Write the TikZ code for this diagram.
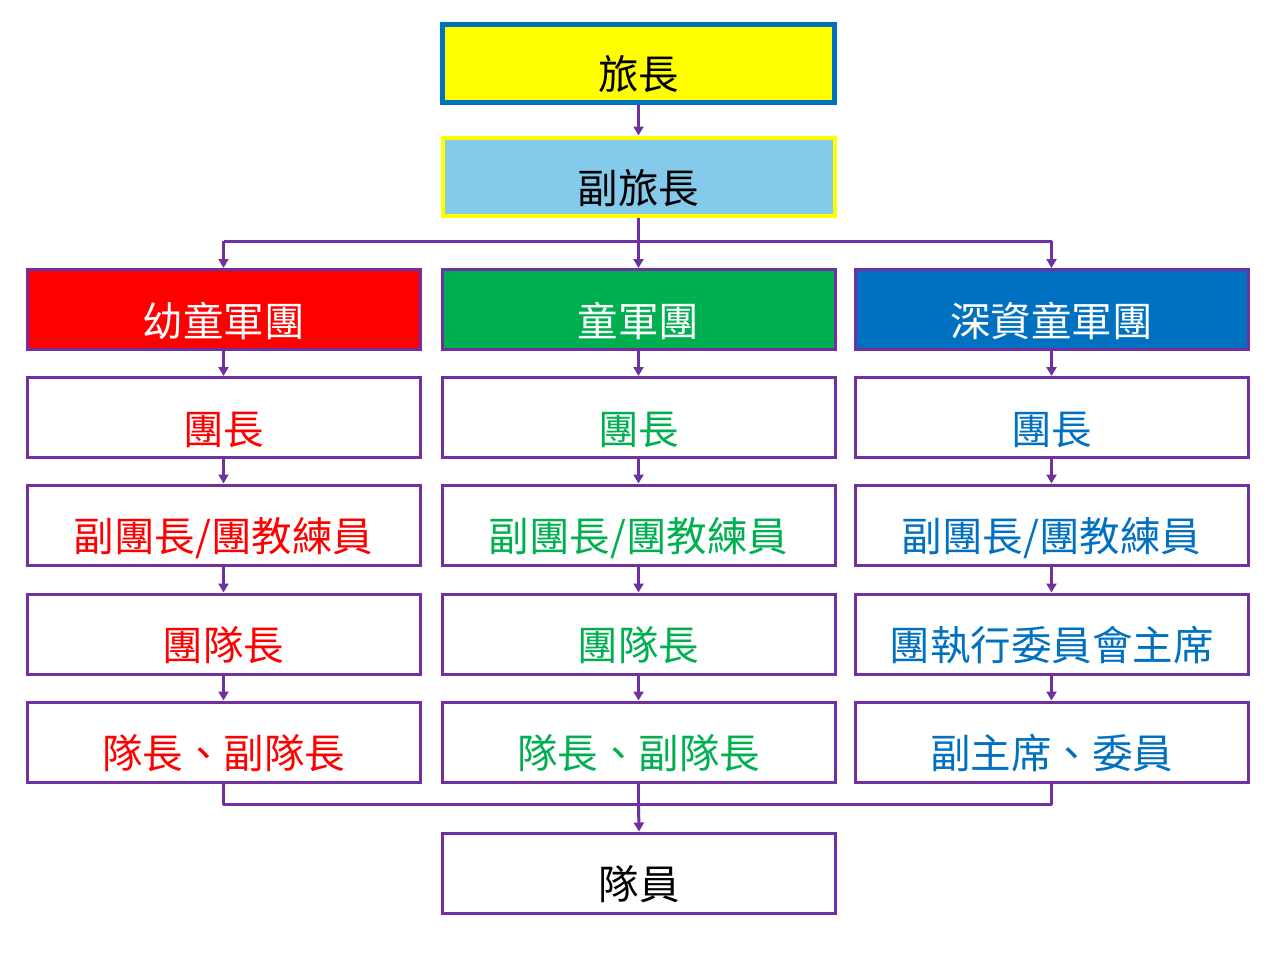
\documentclass[tikz,border=0pt]{standalone}
\usepackage{fontspec}
\setmainfont{Noto Sans CJK TC}
\usetikzlibrary{arrows.meta}
\definecolor{pur}{HTML}{7030A0}
\definecolor{gr}{HTML}{00B050}
\definecolor{bl}{HTML}{0070C0}
\definecolor{lb}{HTML}{83CAEB}
\definecolor{yl}{HTML}{FFFF00}
\begin{document}
\begin{tikzpicture}[x=1pt,y=-1pt,
  box/.style={draw=pur,line width=3pt,minimum width=393pt,minimum height=80pt,inner sep=0pt,font=\fontsize{40.5}{40.5}\selectfont},
  lbl/.style={inner sep=0pt,font=\fontsize{40.5}{40.5}\selectfont},
  conn/.style={draw=pur,line width=3pt},
  arr/.style={conn,-{Triangle[width=10pt,length=9pt]}}]
\useasboundingbox (0,0) rectangle (1280,954);
\newcommand{\tx}[1]{\smash{\raisebox{-26.5pt}{#1}}}
% top
\node[box,draw=bl,line width=5pt,fill=yl,minimum width=392pt,minimum height=78pt] (lz) at (638.5,63) {\tx{旅長}};
\node[box,draw=yl,line width=4pt,fill=lb,minimum width=392pt,minimum height=78pt] (flz) at (638.5,176.5) {\tx{副旅長}};
% columns
\foreach \c/\x in {a/223.5,b/638.5,c/1051.5}{
  \node[box] (\c1) at (\x,309.5) {};
  \node[box] (\c2) at (\x,417.5) {};
  \node[box] (\c3) at (\x,525) {};
  \node[box] (\c4) at (\x,634) {};
  \node[box] (\c5) at (\x,742) {};
}
\node[box,fill=red,text=white] at (a1) {\tx{幼童軍團}};
\node[box,fill=gr,text=white] at (b1) {\tx{童軍團}};
\node[box,fill=bl,text=white] at (c1) {\tx{深資童軍團}};
\node[lbl,text=red] (ta2) at (a2) {\tx{團長}};
\node[lbl,text=gr] (tb2) at (b2) {\tx{團長}};
\node[lbl,text=bl] (tc2) at (c2) {\tx{團長}};
\node[lbl,text=red] (ta3) at (a3) {\tx{副團長/團教練員}};
\node[lbl,text=gr] (tb3) at (b3) {\tx{副團長/團教練員}};
\node[lbl,text=bl] (tc3) at (c3) {\tx{副團長/團教練員}};
\node[lbl,text=red] (ta4) at (a4) {\tx{團隊長}};
\node[lbl,text=gr] (tb4) at (b4) {\tx{團隊長}};
\node[lbl,text=bl] (tc4) at (c4) {\tx{團執行委員會主席}};
\node[lbl,text=red] (ta5) at (a5) {\tx{隊長、副隊長}};
\node[lbl,text=gr] (tb5) at (b5) {\tx{隊長、副隊長}};
\node[lbl,text=bl] (tc5) at (c5) {\tx{副主席、委員}};
\node[box] (dy) at (639,873) {\tx{隊員}};
% connectors
\draw[arr] (lz.south) -- (flz.north);
\coordinate (h) at (638.5,241);
\draw[conn] (flz.south) -- (h);
\draw[conn] (a1.north |- h) -- (c1.north |- h);
\foreach \c in {a,b,c}{
  \draw[arr] (\c1.north |- h) -- (\c1.north);
  \draw[arr] (\c1.south) -- (\c2.north);
  \draw[arr] (\c2.south) -- (\c3.north);
  \draw[arr] (\c3.south) -- (\c4.north);
  \draw[arr] (\c4.south) -- (\c5.north);
}
\coordinate (m) at (638.5,804);
\draw[conn,line join=round] (a5.south) -- (a5.south |- m) -- (c5.south |- m) -- (c5.south);
\draw[conn] (b5.south) -- (m);
\draw[arr] (m) -- (dy.north);
\end{tikzpicture}
\end{document}
